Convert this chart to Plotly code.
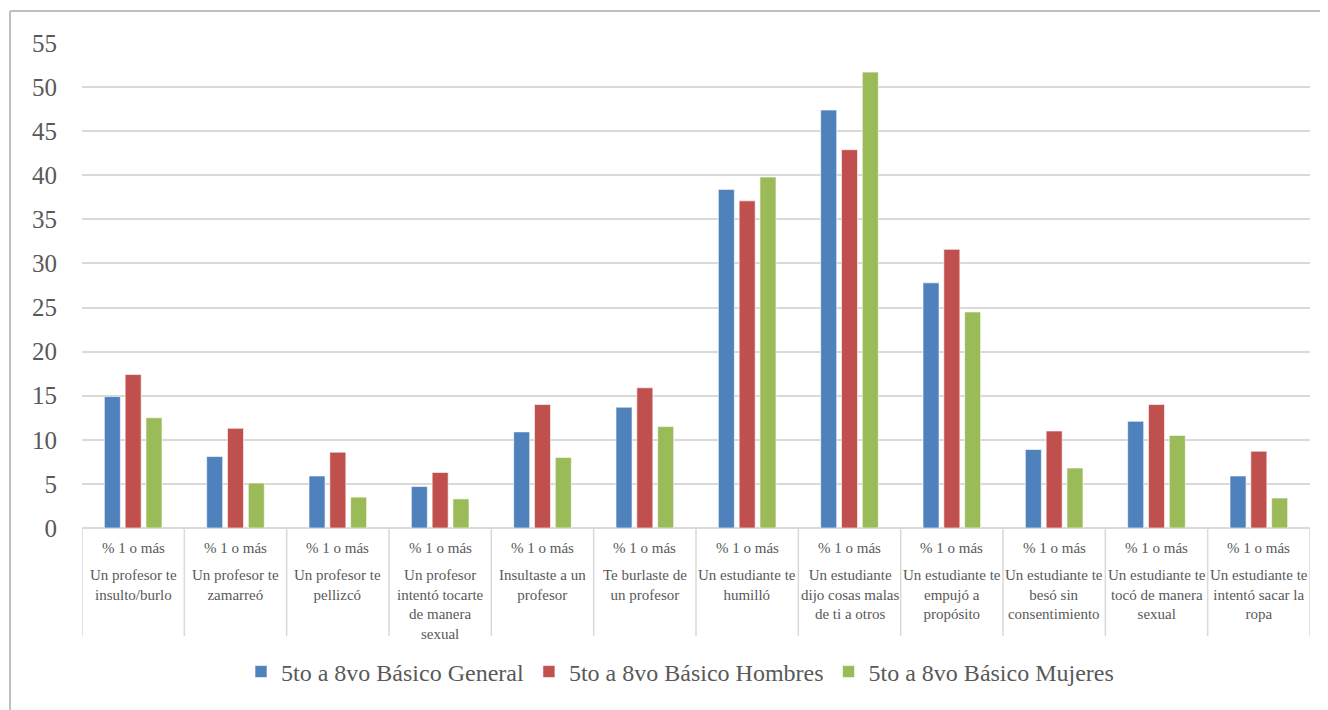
import plotly.graph_objects as go

categories = [
    "Un profesor te<br>insulto/burlo",
    "Un profesor te<br>zamarreó",
    "Un profesor te<br>pellizcó",
    "Un profesor<br>intentó tocarte<br>de manera<br>sexual",
    "Insultaste a un<br>profesor",
    "Te burlaste de<br>un profesor",
    "Un estudiante te<br>humilló",
    "Un estudiante<br>dijo cosas malas<br>de ti a otros",
    "Un estudiante te<br>empujó a<br>propósito",
    "Un estudiante te<br>besó sin<br>consentimiento",
    "Un estudiante te<br>tocó de manera<br>sexual",
    "Un estudiante te<br>intentó sacar la<br>ropa",
]
inner_label = "% 1 o más"

general = [14.9, 8.1, 5.9, 4.7, 10.9, 13.7, 38.4, 47.4, 27.8, 8.9, 12.1, 5.9]
hombres = [17.4, 11.3, 8.6, 6.3, 14.0, 15.9, 37.1, 42.9, 31.6, 11.0, 14.0, 8.7]
mujeres = [12.5, 5.1, 3.5, 3.3, 8.0, 11.5, 39.8, 51.7, 24.5, 6.8, 10.5, 3.4]

series = [
    ("5to a 8vo Básico General", general, "#4F81BD"),
    ("5to a 8vo Básico Hombres", hombres, "#C0504D"),
    ("5to a 8vo Básico Mujeres", mujeres, "#9BBB59"),
]

y_ticks = list(range(0, 56, 5))

FONT = "Liberation Serif, serif"
TXT = "#595959"
GRID = "#d9d9d9"

fig = go.Figure()
for name, vals, col in series:
    fig.add_trace(go.Bar(
        x=categories, y=vals, name=name,
        marker=dict(color=col, line=dict(color="rgba(255,255,255,0.6)", width=1)),
    ))

# page body has an 8px offset; figure coords = screen - 8
OFF = 8
W, H = 1320, 702
L, R, T, B = 82 - OFF, 1310 - OFF, 43 - OFF, 528 - OFF
pw, ph = R - L, B - T

def px_y(ypx):
    return (B - (ypx - OFF)) / ph

def px_x(xpx):
    return ((xpx - OFF) - L) / pw

shapes = []
for i in range(len(categories) + 1):
    shapes.append(dict(type="line", xref="x", yref="paper",
                       x0=i - 0.5, x1=i - 0.5, y0=0, y1=px_y(636),
                       line=dict(color=GRID, width=1.5)))
# outer chart border (only top and left edges are visible)
shapes.append(dict(type="line", xref="paper", yref="paper",
                   x0=px_x(10), x1=px_x(1330), y0=px_y(11), y1=px_y(11),
                   line=dict(color="#bfbfbf", width=2), layer="below"))
shapes.append(dict(type="line", xref="paper", yref="paper",
                   x0=px_x(10), x1=px_x(10), y0=px_y(11), y1=px_y(712),
                   line=dict(color="#bfbfbf", width=2), layer="below"))

annotations = []
for c in categories:
    annotations.append(dict(x=c, xref="x", y=px_y(538), yref="paper",
                            text=inner_label, showarrow=False, yanchor="top",
                            font=dict(family=FONT, size=15, color=TXT)))
    annotations.append(dict(x=c, xref="x", y=px_y(565), yref="paper",
                            text=c, showarrow=False, yanchor="top",
                            font=dict(family=FONT, size=15, color=TXT)))

fig.update_layout(
    width=W, height=H,
    margin=dict(l=L, r=W - R, t=T, b=H - B),
    paper_bgcolor="white", plot_bgcolor="white",
    barmode="group", bargap=0.39, bargroupgap=0.23,
    font=dict(family=FONT, color=TXT),
    showlegend=True,
    legend=dict(orientation="h", x=px_x(680), xanchor="center",
                y=px_y(672), yanchor="middle",
                font=dict(family=FONT, size=24, color=TXT),
                itemwidth=30, traceorder="normal"),
    shapes=shapes,
    annotations=annotations,
)
fig.update_xaxes(showticklabels=False, showgrid=False, showline=False, zeroline=False,
                 range=[-0.5, len(categories) - 0.5])
fig.update_yaxes(range=[0, 55], tickvals=y_ticks, showgrid=True, gridcolor=GRID, gridwidth=1.5,
                 zeroline=True, zerolinecolor=GRID, zerolinewidth=1.5,
                 tickfont=dict(family=FONT, size=25, color=TXT), ticklabelstandoff=24)

fig.write_html("out.html")
